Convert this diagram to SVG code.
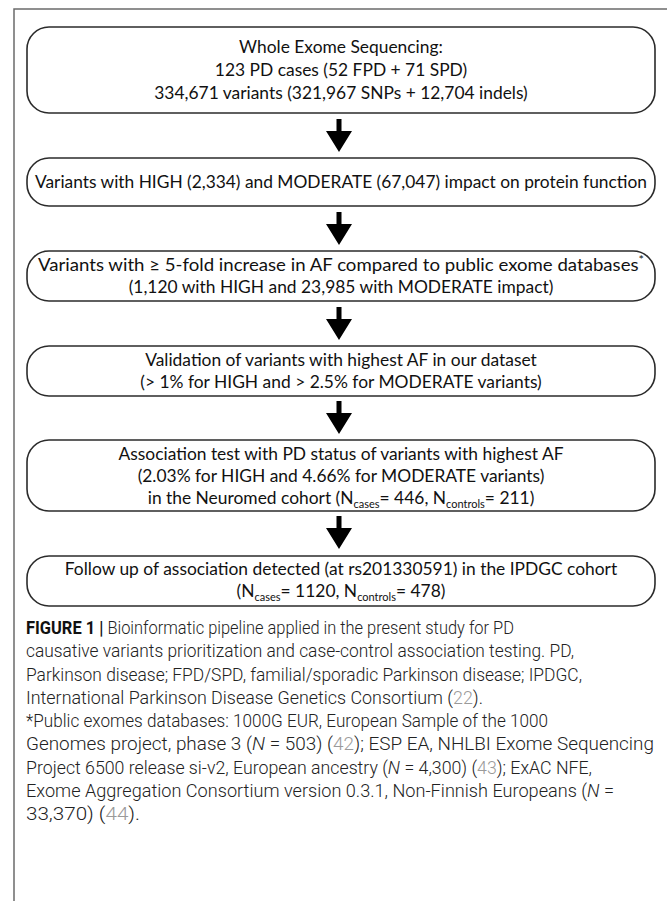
<svg xmlns="http://www.w3.org/2000/svg" width="667" height="901" viewBox="0 0 667 901">
<style>
.frame{fill:none;stroke:#6b6b6b;stroke-width:1.5}
.box{fill:#fff;stroke:#2b2b2b;stroke-width:1.6}
.t{font-family:Lato,"Open Sans","Liberation Sans",sans-serif;font-size:17.4px;fill:#111;text-anchor:middle}
.sub{font-size:11px}
.arrow{fill:#000}
.cap{font-family:Roboto,"Liberation Sans",sans-serif;font-weight:300;font-size:17.5px;fill:#222}
.capb{font-weight:700;fill:#111}
.ref{fill:#9a9a9a}
</style>
<defs>
<path id="arr" d="M-2.5,0 H2.5 V12 H13 L0,33 L-13,12 H-2.5 Z"/>
</defs>
<path class="frame" d="M14,901 V9 H667"/>
<g id="node1">
<rect class="box" x="27" y="27" width="628" height="86" rx="22"/>
<text class="t" x="341" y="53">Whole Exome Sequencing:</text>
<text class="t" x="341" y="76">123 PD cases (52 FPD + 71 SPD)</text>
<text class="t" x="341" y="99">334,671 variants (321,967 SNPs + 12,704 indels)</text>
</g>
<g id="node2">
<rect class="box" x="27" y="158" width="628" height="48" rx="22"/>
<text class="t" x="341" y="188" textLength="612" lengthAdjust="spacingAndGlyphs">Variants with HIGH (2,334) and MODERATE (67,047) impact on protein function</text>
</g>
<g id="node3">
<rect class="box" x="27" y="251" width="628" height="50" rx="22"/>
<text class="t" x="341" y="271" textLength="606" lengthAdjust="spacingAndGlyphs">Variants with ≥ 5-fold increase in AF compared to public exome databases<tspan dy="-7" font-size="12">*</tspan></text>
<text class="t" x="341" y="293">(1,120 with HIGH and 23,985 with MODERATE impact)</text>
</g>
<g id="node4">
<rect class="box" x="27" y="346" width="628" height="50" rx="22"/>
<text class="t" x="341" y="366">Validation of variants with highest AF in our dataset</text>
<text class="t" x="341" y="388">(&gt; 1% for HIGH and &gt; 2.5% for MODERATE variants)</text>
</g>
<g id="node5">
<rect class="box" x="27" y="440" width="628" height="71" rx="22"/>
<text class="t" x="341" y="460">Association test with PD status of variants with highest AF</text>
<text class="t" x="341" y="482">(2.03% for HIGH and 4.66% for MODERATE variants)</text>
<text class="t" x="341" y="504">in the Neuromed cohort (N<tspan class="sub" dy="4">cases</tspan><tspan dy="-4">= 446, N</tspan><tspan class="sub" dy="4">controls</tspan><tspan dy="-4">= 211)</tspan></text>
</g>
<g id="node6">
<rect class="box" x="27" y="556" width="628" height="50" rx="22"/>
<text class="t" x="341" y="575">Follow up of association detected (at rs201330591) in the IPDGC cohort</text>
<text class="t" x="341" y="597">(N<tspan class="sub" dy="4">cases</tspan><tspan dy="-4">= 1120, N</tspan><tspan class="sub" dy="4">controls</tspan><tspan dy="-4">= 478)</tspan></text>
</g>
<g id="connectors">
<use href="#arr" class="arrow" x="339" y="119"/>
<use href="#arr" class="arrow" x="339" y="212"/>
<use href="#arr" class="arrow" x="339" y="307"/>
<use href="#arr" class="arrow" x="339" y="401"/>
<use href="#arr" class="arrow" x="339" y="516"/>
</g>
<g id="caption">
<text class="cap" x="26" y="634" textLength="488" lengthAdjust="spacingAndGlyphs"><tspan class="capb">FIGURE 1 |</tspan> Bioinformatic pipeline applied in the present study for PD</text>
<text class="cap" x="26" y="657" textLength="548" lengthAdjust="spacingAndGlyphs">causative variants prioritization and case-control association testing. PD,</text>
<text class="cap" x="26" y="681" textLength="556" lengthAdjust="spacingAndGlyphs">Parkinson disease; FPD/SPD, familial/sporadic Parkinson disease; IPDGC,</text>
<text class="cap" x="26" y="704" textLength="457" lengthAdjust="spacingAndGlyphs">International Parkinson Disease Genetics Consortium (<tspan class="ref">22</tspan>).</text>
<text class="cap" x="26" y="727" textLength="522" lengthAdjust="spacingAndGlyphs">*Public exomes databases: 1000G EUR, European Sample of the 1000</text>
<text class="cap" x="26" y="750" textLength="628" lengthAdjust="spacingAndGlyphs">Genomes project, phase 3 (<tspan font-style="italic">N</tspan> = 503) (<tspan class="ref">42</tspan>); ESP EA, NHLBI Exome Sequencing</text>
<text class="cap" x="26" y="774" textLength="566" lengthAdjust="spacingAndGlyphs">Project 6500 release si-v2, European ancestry (<tspan font-style="italic">N</tspan> = 4,300) (<tspan class="ref">43</tspan>); ExAC NFE,</text>
<text class="cap" x="26" y="797" textLength="588" lengthAdjust="spacingAndGlyphs">Exome Aggregation Consortium version 0.3.1, Non-Finnish Europeans (<tspan font-style="italic">N</tspan> =</text>
<text class="cap" x="26" y="820" textLength="114" lengthAdjust="spacingAndGlyphs">33,370) (<tspan class="ref">44</tspan>).</text>
</g>
</svg>
